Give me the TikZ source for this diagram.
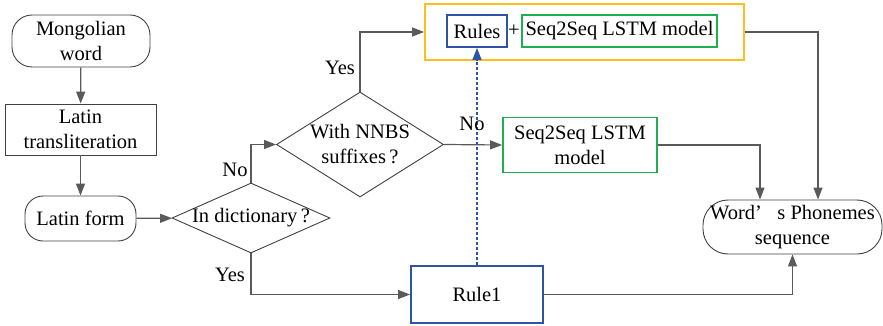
\documentclass[tikz,border=0pt]{standalone}
\usepackage{fontspec}
\setmainfont{Liberation Serif}
\usetikzlibrary{arrows.meta,shapes.geometric,calc}
\definecolor{linegray}{HTML}{5A5A5A}
\definecolor{boxgray}{HTML}{404040}
\definecolor{ruleblue}{HTML}{2E55A5}
\definecolor{lstmgreen}{HTML}{1DB04F}
\definecolor{comborange}{HTML}{FFBE1E}

\begin{document}
\begin{tikzpicture}[x=1pt,y=-1pt, >={Triangle[length=12pt,width=9pt]},
    font=\rmfamily\fontsize{20.5}{25}\selectfont,
    flow/.style={->,linegray,line width=1.2pt},
    term/.style={draw=boxgray,line width=0.9pt,align=center,inner sep=0pt},
    proc/.style={draw=boxgray,line width=0.9pt,align=center,inner sep=0pt},
    decide/.style={diamond,draw=boxgray,line width=0.9pt,inner sep=0pt},
    rulebox/.style={draw=ruleblue,line width=1.8pt,align=center,inner sep=0pt},
    lstmbox/.style={draw=lstmgreen,line width=1.8pt,align=center,inner sep=0pt}]
  \useasboundingbox (0,0) rectangle (883,326);

  % left column
  \node[term,rounded corners=20pt,minimum width=138pt,minimum height=52pt]
    (mongol) at (81,41) {Mongolian\\word};
  \node[proc,minimum width=151pt,minimum height=51pt]
    (translit) at (80.5,129.5) {Latin\\transliteration};
  \node[term,rounded corners=18pt,minimum width=111pt,minimum height=45pt]
    (latin) at (80.5,218.5) {Latin form};

  % decisions
  \node[decide,minimum width=158pt,minimum height=70pt,
    label={center:In dictionary\,?}] (dict) at (251,218) {};
  \node[decide,minimum width=167pt,minimum height=105pt,
    label={[align=center]center:With NNBS\\suffixes\,?}] (nnbs) at (360,144.5) {};

  % models
  \node[draw=comborange,line width=1.8pt,minimum width=319pt,minimum height=56pt]
    (combo) at (584.5,32) {};
  \node[rulebox,minimum width=60pt,minimum height=32pt] (rules) at (477,31) {Rules};
  \node (plus) at (514,31) {+};
  \node[lstmbox,minimum width=195pt,minimum height=32pt]
    (lstm) at (619.5,31) {Seq2Seq LSTM model};
  \node[lstmbox,minimum width=154pt,minimum height=55pt]
    (seqb) at (580,145) {Seq2Seq LSTM\\model};
  \node[rulebox,minimum width=132pt,minimum height=57pt] (rule1) at (477,294.5) {Rule1};
  \node[term,rounded corners=25pt,minimum width=179pt,minimum height=54pt]
    (phon) at (792.5,227) {Word’\hspace{0.75em}s Phonemes\\sequence};

  % connectors
  \draw[flow] (mongol) -- (translit);
  \draw[flow] (translit) -- (latin);
  \draw[flow] (latin) -- (dict);
  \draw[flow] (dict.north) |- (nnbs.west);
  \draw[flow] (dict.south) |- (rule1.west);
  \draw[flow] (nnbs.north) |- (combo.west);
  \draw[flow] (nnbs.east) -- (seqb.west);
  \draw[flow] (combo.east) -| ($(phon.north)+(25.5,0)$);
  \draw[flow] (seqb.east) -| ($(phon.north)+(-32.5,0)$);
  \draw[flow] (rule1.east) -| (phon.south);
  \draw[->,ruleblue,line width=1.3pt,densely dashed] (rule1.north) -- (rules.south);

  % branch labels
  \node (noa) at (235,170) {No};
  \node (yesa) at (230,275) {Yes};
  \node (yesb) at (340,68) {Yes};
  \node (nob) at (472,124) {No};
\end{tikzpicture}
\end{document}
